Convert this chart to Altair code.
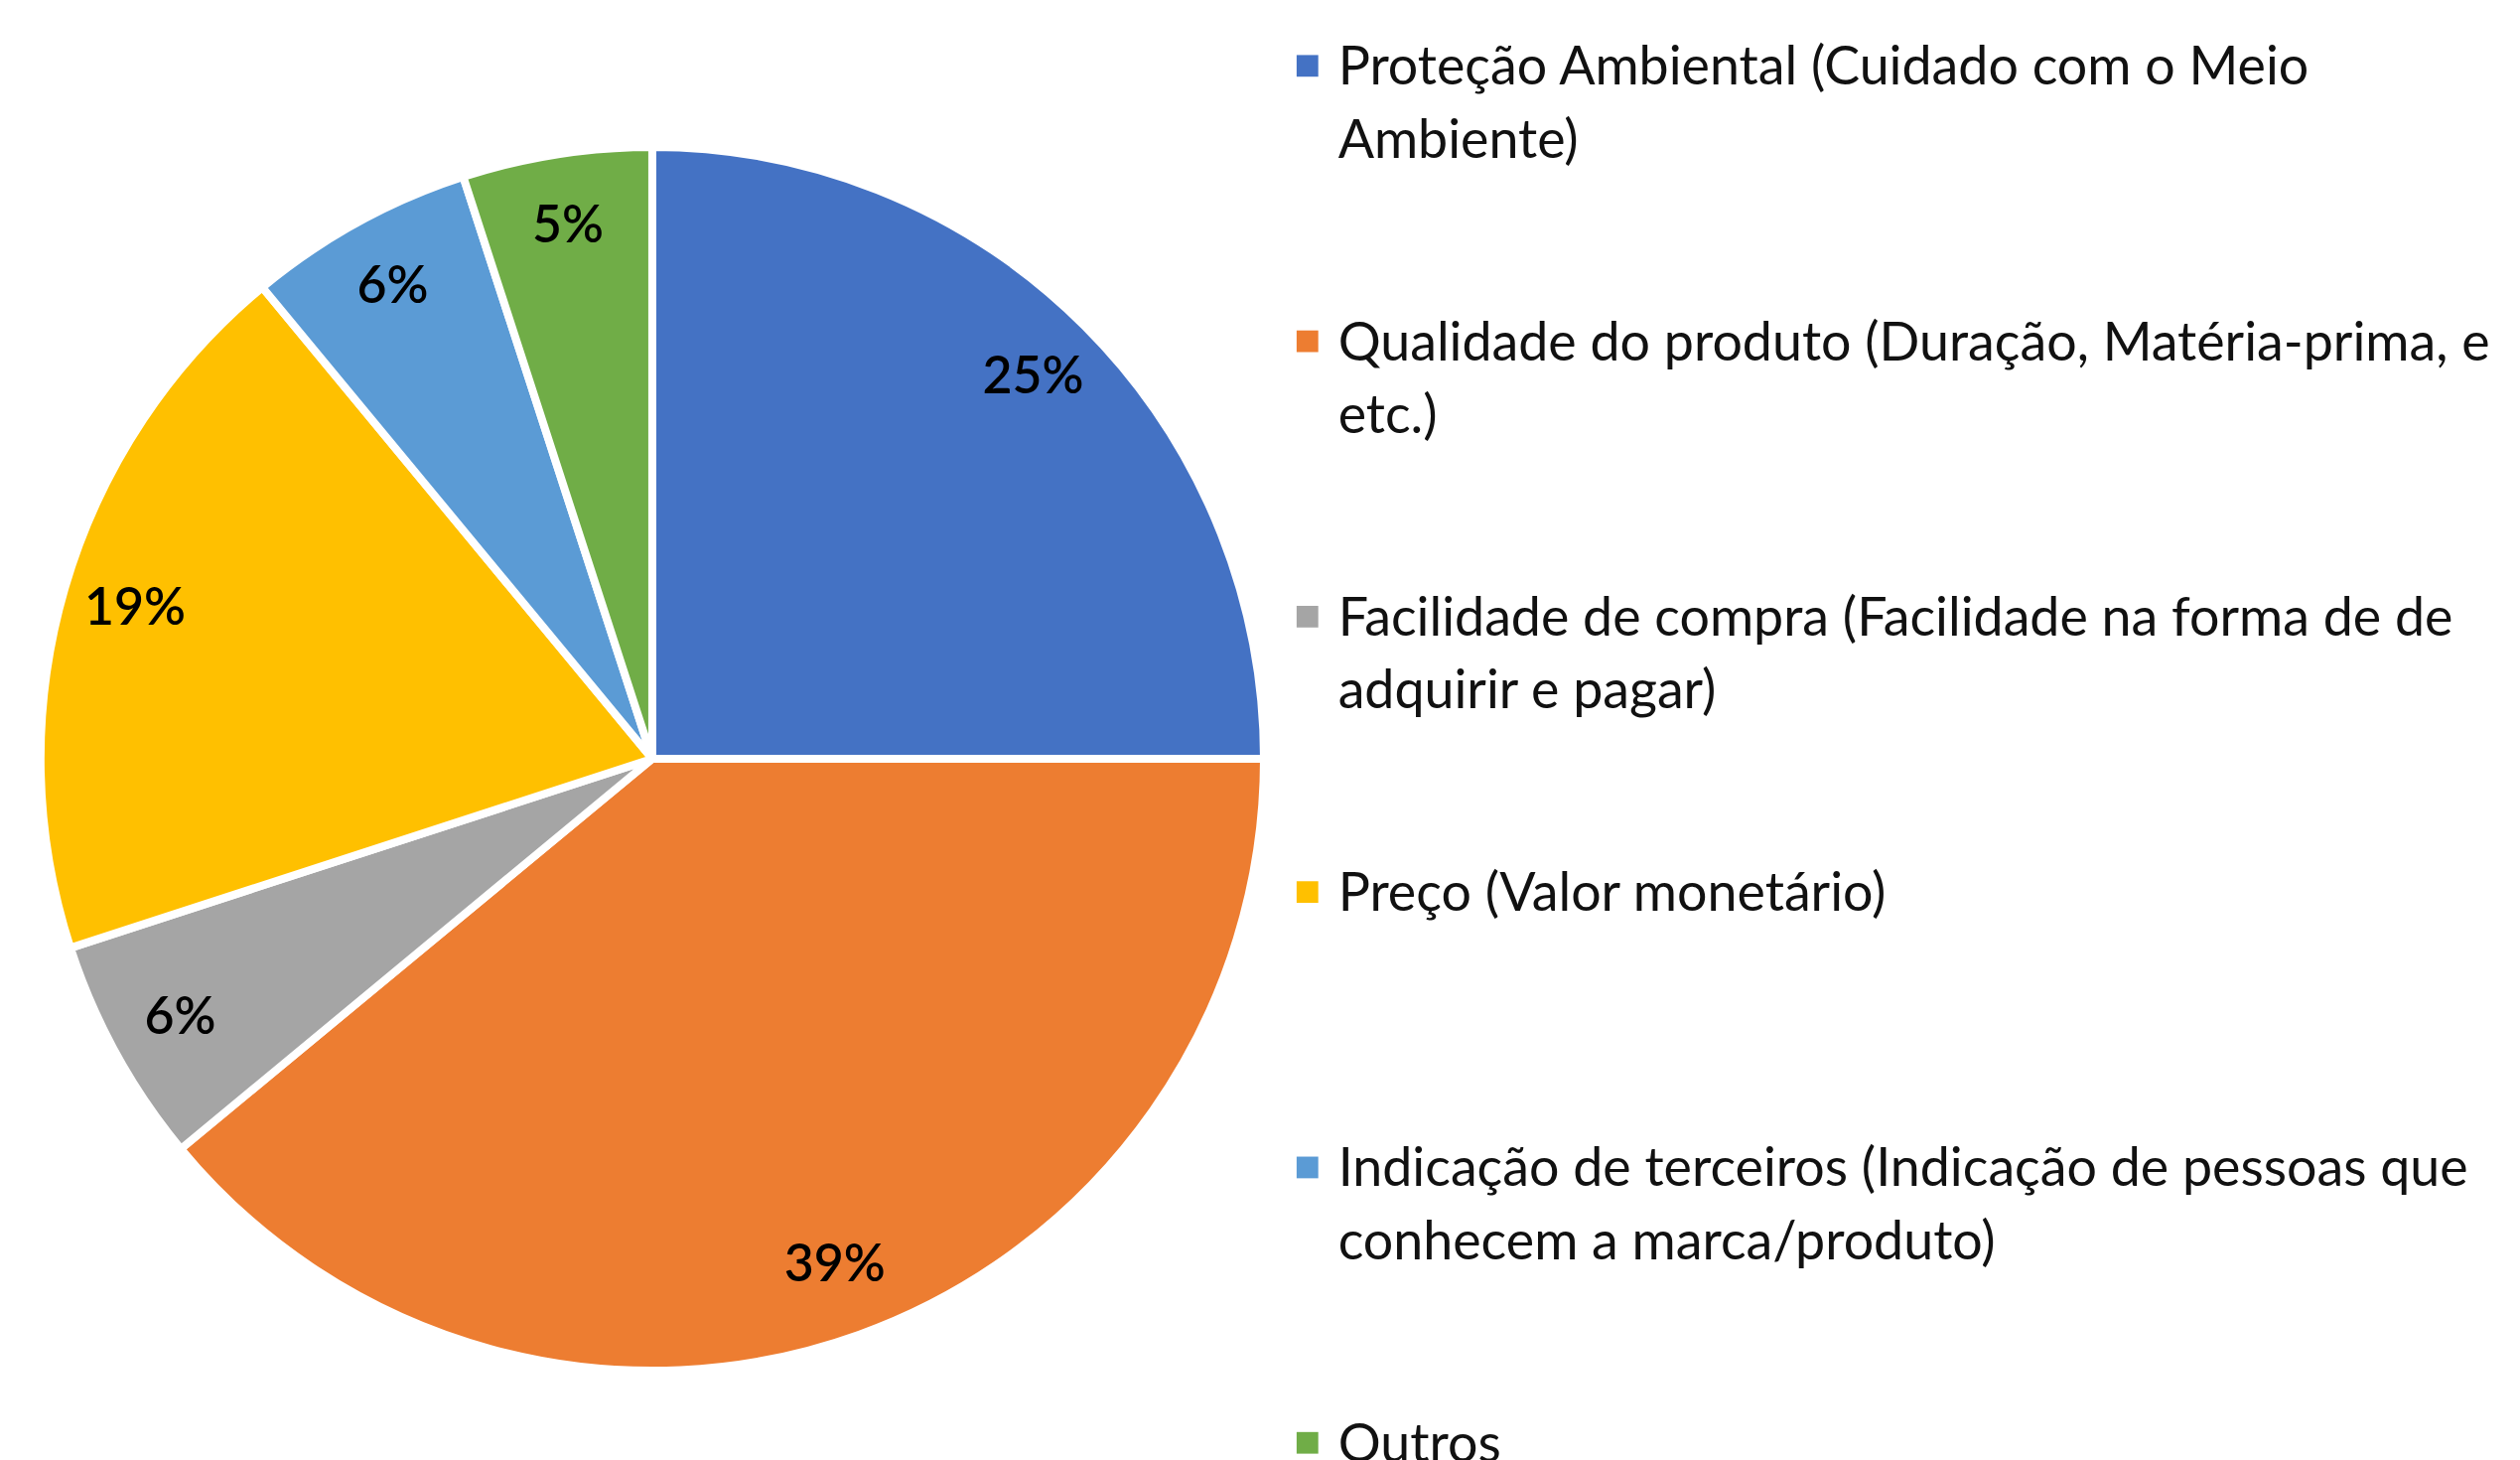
import altair as alt
import pandas as pd

categories = [
    "Proteção Ambiental (Cuidado com o Meio Ambiente)",
    "Qualidade do produto (Duração, Matéria-prima, e etc.)",
    "Facilidade de compra (Facilidade na forma de  de adquirir e pagar)",
    "Preço (Valor monetário)",
    "Indicação de terceiros (Indicação de pessoas que conhecem a marca/produto)",
    "Outros",
]
values = [25, 39, 6, 19, 6, 5]
legend_lines = [
    ["Proteção Ambiental (Cuidado com o Meio", "Ambiente)"],
    ["Qualidade do produto (Duração, Matéria-prima, e", "etc.)"],
    ["Facilidade de compra (Facilidade na forma de  de", "adquirir e pagar)"],
    ["Preço (Valor monetário)"],
    ["Indicação de terceiros (Indicação de pessoas que", "conhecem a marca/produto)"],
    ["Outros"],
]
colors = ["#4472C4", "#ED7D31", "#A5A5A5", "#FFC000", "#5B9BD5", "#70AD47"]

pie_df = pd.DataFrame({
    "cat": categories,
    "value": values,
    "order": list(range(len(categories))),
    "label": [f"{v}%" for v in values],
})
leg_df = pd.DataFrame({
    "cat": categories,
    "text": ["\n".join(l) for l in legend_lines],
})

color_scale = alt.Scale(domain=categories, range=colors)
theta = alt.Theta("value:Q", stack=True)
order = alt.Order("order:Q")

arcs = alt.Chart(pie_df).mark_arc(
    outerRadius=619, stroke="white", strokeWidth=8
).encode(
    theta=theta,
    order=order,
    color=alt.Color("cat:N", scale=color_scale, legend=None),
)
labels = alt.Chart(pie_df).mark_text(
    radius=545, font="Lato", fontSize=52, fontWeight=600, color="#000000"
).encode(
    theta=theta,
    order=order,
    text="label:N",
)
pie = alt.layer(arcs, labels).properties(width=1304, height=1512)

y = alt.Y(
    "cat:N",
    scale=alt.Scale(type="point", domain=categories, range=[55, 1448], padding=0),
    axis=None,
)
sym = alt.Chart(leg_df).mark_square(size=480, opacity=1).encode(
    x=alt.value(-1),
    y=y,
    color=alt.Color("cat:N", scale=color_scale, legend=None),
)
txt = alt.Chart(leg_df).mark_text(
    align="left", baseline="alphabetic", lineBreak="\n", lineHeight=74,
    font="Lato", fontSize=54, dy=19, color="#111111",
).encode(
    x=alt.value(30),
    y=y,
    text="text:N",
)
legend = alt.layer(sym, txt).properties(width=1218, height=1512)

chart = alt.hconcat(pie, legend, spacing=0).properties(padding=0).configure_view(stroke=None)
chart.save("out.html", embed_options={"renderer": "svg", "actions": False})
